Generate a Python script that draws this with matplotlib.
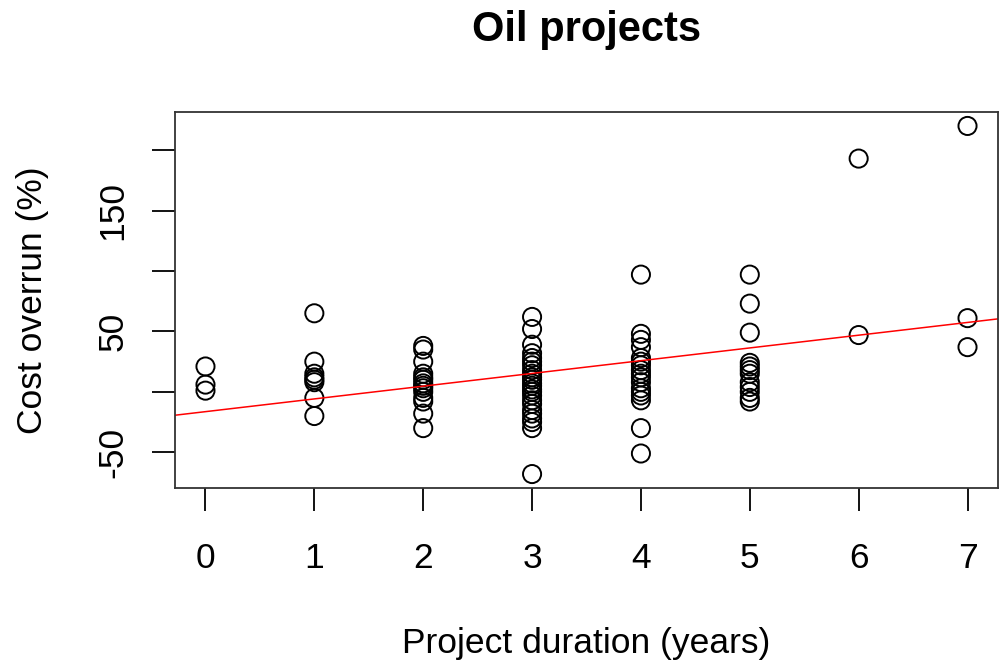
import matplotlib.pyplot as plt
import numpy as np

plt.rcParams['font.family'] = ['Liberation Sans', 'DejaVu Sans']

# Cost overrun (%) for each project, grouped by duration in years
overrun = {
    0: [21, 6, 1],
    1: [65, 25, 15, 12, 10, 8, -5, -20],
    2: [38, 35, 25, 15, 12, 10, 7, 5, 3, 0, -5, -8, -18, -30],
    3: [62, 52, 39, 32, 28, 25, 22, 18, 15, 12, 10, 7, 5, 2, 0, -3, -7, -10,
        -15, -18, -22, -25, -30, -68],
    4: [97, 48, 43, 37, 28, 25, 22, 18, 15, 12, 8, 3, 0, -3, -7, -30, -51],
    5: [97, 73, 49, 24, 21, 18, 15, 8, 4, 0, -5, -8],
    6: [193, 47],
    7: [220, 61, 37],
}

duration = np.concatenate([[k] * len(v) for k, v in overrun.items()]).astype(float)
cost = np.concatenate([v for v in overrun.values()]).astype(float)

y_ticks = [-50, 0, 50, 100, 150, 200]
y_labels = ["-50", "", "50", "", "150", ""]
x_ticks = list(range(8))

slope, intercept = np.polyfit(duration, cost, 1)

fig = plt.figure(figsize=(10, 6.68), dpi=100)
ax = fig.add_axes([0.175, 0.2695, 0.823, 0.5628])

ax.scatter(duration, cost, s=170, facecolors='none', edgecolors='black', linewidths=1.4)

# pad the data range by 4% on each side
xr = 7 * 0.04
yr = (cost.max() - cost.min()) * 0.04
ax.set_xlim(-xr, 7 + xr)
ax.set_ylim(cost.min() - yr, cost.max() + yr)

xx = np.array(ax.get_xlim())
ax.plot(xx, intercept + slope * xx, color='red', linewidth=1.1)

for s in ax.spines.values():
    s.set_linewidth(1.3)
    s.set_color('#333333')

ax.set_xticks(x_ticks)
ax.set_xticklabels([str(t) for t in x_ticks], fontsize=25.5)
ax.set_yticks(y_ticks)
ax.set_yticklabels(y_labels, fontsize=25.5, rotation=90, va='center')
ax.tick_params(axis='x', length=16.5, width=1.3, pad=22.5)
ax.tick_params(axis='y', length=16.5, width=1.3, pad=16.5)

ax.set_xlabel('Project duration (years)', fontsize=25.5, labelpad=37)
ax.set_ylabel('Cost overrun (%)', fontsize=25.5, labelpad=34)

# title centred over the plotting region
fig.text(0.175 + 0.823 / 2, 1 - 30 / 668, 'Oil projects', fontsize=30,
         fontweight='bold', ha='center', va='center')

fig.savefig('out.png', dpi=100)
